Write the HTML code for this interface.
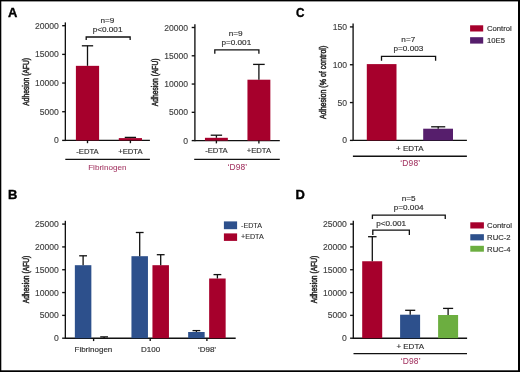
<!DOCTYPE html>
<html><head><meta charset="utf-8"><style>
html,body{margin:0;padding:0;background:#fff;}
body{width:520px;height:372px;overflow:hidden;position:relative;}
svg{position:absolute;left:0;top:0;display:block;will-change:transform;}
.wrap{position:absolute;left:0;top:0;width:520px;height:372px;}
text{font-family:"Liberation Sans", sans-serif;paint-order:stroke;}
</style></head><body>
<div class="wrap"><svg width="520" height="372" viewBox="0 0 520 372" xmlns="http://www.w3.org/2000/svg">
<rect x="0.00" y="0.00" width="520.00" height="1.40" fill="#000"/>
<rect x="0.00" y="0.00" width="1.30" height="372.00" fill="#000"/>
<rect x="518.00" y="0.00" width="2.00" height="372.00" fill="#000"/>
<rect x="0.00" y="370.30" width="520.00" height="1.70" fill="#000"/>
<text x="0" y="0" transform="translate(8.00,16.90) scale(1.08,1)" font-size="12" text-anchor="start" fill="#000" stroke="#000" stroke-width="0.35" font-weight="bold">A</text>
<line x1="65.35" y1="22.40" x2="65.35" y2="141.08" stroke="#111" stroke-width="1.35"/>
<line x1="62.15" y1="140.40" x2="65.35" y2="140.40" stroke="#111" stroke-width="1.35"/>
<text x="0" y="0" transform="translate(58.80,143.40) scale(1.05,1)" font-size="8.2" text-anchor="end" fill="#3c3c3c" stroke="#3c3c3c" stroke-width="0.12" font-weight="normal">0</text>
<line x1="62.15" y1="111.72" x2="65.35" y2="111.72" stroke="#111" stroke-width="1.35"/>
<text x="0" y="0" transform="translate(58.80,114.72) scale(1.05,1)" font-size="8.2" text-anchor="end" fill="#3c3c3c" stroke="#3c3c3c" stroke-width="0.12" font-weight="normal">5000</text>
<line x1="62.15" y1="83.05" x2="65.35" y2="83.05" stroke="#111" stroke-width="1.35"/>
<text x="0" y="0" transform="translate(58.80,86.05) scale(1.05,1)" font-size="8.2" text-anchor="end" fill="#3c3c3c" stroke="#3c3c3c" stroke-width="0.12" font-weight="normal">10000</text>
<line x1="62.15" y1="54.38" x2="65.35" y2="54.38" stroke="#111" stroke-width="1.35"/>
<text x="0" y="0" transform="translate(58.80,57.38) scale(1.05,1)" font-size="8.2" text-anchor="end" fill="#3c3c3c" stroke="#3c3c3c" stroke-width="0.12" font-weight="normal">15000</text>
<line x1="62.15" y1="25.70" x2="65.35" y2="25.70" stroke="#111" stroke-width="1.35"/>
<text x="0" y="0" transform="translate(58.80,28.70) scale(1.05,1)" font-size="8.2" text-anchor="end" fill="#3c3c3c" stroke="#3c3c3c" stroke-width="0.12" font-weight="normal">20000</text>
<line x1="65.35" y1="140.40" x2="149.90" y2="140.40" stroke="#111" stroke-width="1.35"/>
<rect x="75.90" y="65.84" width="23.20" height="74.56" fill="#a6002c"/>
<rect x="118.80" y="138.11" width="23.20" height="2.29" fill="#a6002c"/>
<line x1="87.50" y1="65.84" x2="87.50" y2="45.80" stroke="#111" stroke-width="1.3"/>
<line x1="81.85" y1="45.80" x2="93.15" y2="45.80" stroke="#111" stroke-width="1.3"/>
<line x1="130.40" y1="138.11" x2="130.40" y2="137.40" stroke="#111" stroke-width="1.3"/>
<line x1="124.75" y1="137.40" x2="136.05" y2="137.40" stroke="#111" stroke-width="1.3"/>
<line x1="87.50" y1="140.40" x2="87.50" y2="143.20" stroke="#111" stroke-width="1.35"/>
<line x1="130.40" y1="140.40" x2="130.40" y2="143.20" stroke="#111" stroke-width="1.35"/>
<text x="0.0" y="0" transform="translate(87.50,153.60) scale(0.95,1)" font-size="8.1" text-anchor="middle" fill="#303030" stroke="#303030" stroke-width="0.16" font-weight="normal">-EDTA</text>
<text x="0.0" y="0" transform="translate(130.40,153.60) scale(0.95,1)" font-size="8.1" text-anchor="middle" fill="#303030" stroke="#303030" stroke-width="0.16" font-weight="normal">+EDTA</text>
<line x1="65.30" y1="159.40" x2="149.90" y2="159.40" stroke="#111" stroke-width="1.35"/>
<text x="0.0" y="0" transform="translate(107.30,169.90) scale(1.0,1)" font-size="8.1" text-anchor="middle" fill="#a33562" stroke="#a33562" stroke-width="0.05" font-weight="normal">Fibrinogen</text>
<path d="M86.20 39.90 V37.00 H130.15 V39.90" fill="none" stroke="#111" stroke-width="1.3"/>
<text x="0.0" y="0" transform="translate(107.40,22.60) scale(1.08,1)" font-size="7.6" text-anchor="middle" fill="#303030" stroke="#303030" stroke-width="0.16" font-weight="normal">n=9</text>
<text x="0.0" y="0" transform="translate(107.55,31.60) scale(1.08,1)" font-size="7.6" text-anchor="middle" fill="#303030" stroke="#303030" stroke-width="0.16" font-weight="normal">p&lt;0.001</text>
<g transform="translate(25.4,81.8) rotate(-90) scale(0.78,1)"><text x="0" y="3.10" font-size="8.6" text-anchor="middle" fill="#303030" stroke="#303030" stroke-width="0.55">Adhesion (AFU)</text></g>
<line x1="194.90" y1="24.20" x2="194.90" y2="141.28" stroke="#111" stroke-width="1.35"/>
<line x1="191.70" y1="140.60" x2="194.90" y2="140.60" stroke="#111" stroke-width="1.35"/>
<text x="0" y="0" transform="translate(188.10,143.60) scale(1.05,1)" font-size="8.2" text-anchor="end" fill="#3c3c3c" stroke="#3c3c3c" stroke-width="0.12" font-weight="normal">0</text>
<line x1="191.70" y1="112.32" x2="194.90" y2="112.32" stroke="#111" stroke-width="1.35"/>
<text x="0" y="0" transform="translate(188.10,115.32) scale(1.05,1)" font-size="8.2" text-anchor="end" fill="#3c3c3c" stroke="#3c3c3c" stroke-width="0.12" font-weight="normal">5000</text>
<line x1="191.70" y1="84.05" x2="194.90" y2="84.05" stroke="#111" stroke-width="1.35"/>
<text x="0" y="0" transform="translate(188.10,87.05) scale(1.05,1)" font-size="8.2" text-anchor="end" fill="#3c3c3c" stroke="#3c3c3c" stroke-width="0.12" font-weight="normal">10000</text>
<line x1="191.70" y1="55.78" x2="194.90" y2="55.78" stroke="#111" stroke-width="1.35"/>
<text x="0" y="0" transform="translate(188.10,58.78) scale(1.05,1)" font-size="8.2" text-anchor="end" fill="#3c3c3c" stroke="#3c3c3c" stroke-width="0.12" font-weight="normal">15000</text>
<line x1="191.70" y1="27.50" x2="194.90" y2="27.50" stroke="#111" stroke-width="1.35"/>
<text x="0" y="0" transform="translate(188.10,30.50) scale(1.05,1)" font-size="8.2" text-anchor="end" fill="#3c3c3c" stroke="#3c3c3c" stroke-width="0.12" font-weight="normal">20000</text>
<line x1="194.90" y1="140.60" x2="279.80" y2="140.60" stroke="#111" stroke-width="1.35"/>
<rect x="204.95" y="137.80" width="22.90" height="2.80" fill="#a6002c"/>
<rect x="247.45" y="79.70" width="22.90" height="60.90" fill="#a6002c"/>
<line x1="216.40" y1="137.80" x2="216.40" y2="135.20" stroke="#111" stroke-width="1.3"/>
<line x1="210.70" y1="135.20" x2="222.10" y2="135.20" stroke="#111" stroke-width="1.3"/>
<line x1="258.90" y1="79.70" x2="258.90" y2="64.40" stroke="#111" stroke-width="1.3"/>
<line x1="253.10" y1="64.40" x2="264.70" y2="64.40" stroke="#111" stroke-width="1.3"/>
<line x1="216.40" y1="140.60" x2="216.40" y2="143.40" stroke="#111" stroke-width="1.35"/>
<line x1="258.90" y1="140.60" x2="258.90" y2="143.40" stroke="#111" stroke-width="1.35"/>
<text x="0.0" y="0" transform="translate(216.40,153.30) scale(0.95,1)" font-size="8.1" text-anchor="middle" fill="#303030" stroke="#303030" stroke-width="0.16" font-weight="normal">-EDTA</text>
<text x="0.0" y="0" transform="translate(258.90,153.30) scale(0.95,1)" font-size="8.1" text-anchor="middle" fill="#303030" stroke="#303030" stroke-width="0.16" font-weight="normal">+EDTA</text>
<line x1="194.20" y1="159.40" x2="279.80" y2="159.40" stroke="#111" stroke-width="1.35"/>
<text x="0.075" y="0" transform="translate(237.30,169.70) scale(1.0,1)" font-size="8.4" text-anchor="middle" fill="#a33562" stroke="#a33562" stroke-width="0.05" font-weight="normal" letter-spacing="0.15">‘D98’</text>
<path d="M214.80 53.80 V49.90 H258.90 V53.80" fill="none" stroke="#111" stroke-width="1.3"/>
<text x="0.0" y="0" transform="translate(235.65,36.10) scale(1.08,1)" font-size="7.6" text-anchor="middle" fill="#303030" stroke="#303030" stroke-width="0.16" font-weight="normal">n=9</text>
<text x="0.0" y="0" transform="translate(236.30,45.10) scale(1.08,1)" font-size="7.6" text-anchor="middle" fill="#303030" stroke="#303030" stroke-width="0.16" font-weight="normal">p=0.001</text>
<g transform="translate(155.1,82.3) rotate(-90) scale(0.78,1)"><text x="0" y="3.10" font-size="8.6" text-anchor="middle" fill="#303030" stroke="#303030" stroke-width="0.55">Adhesion (AFU)</text></g>
<text x="0" y="0" transform="translate(295.90,16.70) scale(0.98,1)" font-size="12" text-anchor="start" fill="#000" stroke="#000" stroke-width="0.35" font-weight="bold">C</text>
<line x1="353.10" y1="23.60" x2="353.10" y2="141.08" stroke="#111" stroke-width="1.35"/>
<line x1="349.90" y1="140.40" x2="353.10" y2="140.40" stroke="#111" stroke-width="1.35"/>
<text x="0" y="0" transform="translate(347.00,143.40) scale(1.05,1)" font-size="8.2" text-anchor="end" fill="#3c3c3c" stroke="#3c3c3c" stroke-width="0.12" font-weight="normal">0</text>
<line x1="349.90" y1="102.57" x2="353.10" y2="102.57" stroke="#111" stroke-width="1.35"/>
<text x="0" y="0" transform="translate(347.00,105.57) scale(1.05,1)" font-size="8.2" text-anchor="end" fill="#3c3c3c" stroke="#3c3c3c" stroke-width="0.12" font-weight="normal">50</text>
<line x1="349.90" y1="64.73" x2="353.10" y2="64.73" stroke="#111" stroke-width="1.35"/>
<text x="0" y="0" transform="translate(347.00,67.73) scale(1.05,1)" font-size="8.2" text-anchor="end" fill="#3c3c3c" stroke="#3c3c3c" stroke-width="0.12" font-weight="normal">100</text>
<line x1="349.90" y1="26.90" x2="353.10" y2="26.90" stroke="#111" stroke-width="1.35"/>
<text x="0" y="0" transform="translate(347.00,29.90) scale(1.05,1)" font-size="8.2" text-anchor="end" fill="#3c3c3c" stroke="#3c3c3c" stroke-width="0.12" font-weight="normal">150</text>
<line x1="353.10" y1="140.40" x2="466.90" y2="140.40" stroke="#111" stroke-width="1.35"/>
<rect x="366.80" y="64.10" width="29.70" height="76.30" fill="#a6002c"/>
<rect x="423.20" y="128.70" width="29.80" height="11.70" fill="#561e6c"/>
<line x1="438.20" y1="128.70" x2="438.20" y2="126.80" stroke="#111" stroke-width="1.3"/>
<line x1="431.15" y1="126.80" x2="445.25" y2="126.80" stroke="#111" stroke-width="1.3"/>
<path d="M381.50 60.70 V56.30 H435.60 V60.70" fill="none" stroke="#111" stroke-width="1.3"/>
<text x="0.0" y="0" transform="translate(408.30,42.10) scale(1.08,1)" font-size="7.6" text-anchor="middle" fill="#303030" stroke="#303030" stroke-width="0.16" font-weight="normal">n=7</text>
<text x="0.0" y="0" transform="translate(408.40,51.25) scale(1.08,1)" font-size="7.6" text-anchor="middle" fill="#303030" stroke="#303030" stroke-width="0.16" font-weight="normal">p=0.003</text>
<text x="0.0" y="0" transform="translate(409.85,151.20) scale(1.0,1)" font-size="8" text-anchor="middle" fill="#303030" stroke="#303030" stroke-width="0.16" font-weight="normal">+ EDTA</text>
<line x1="352.90" y1="156.20" x2="466.90" y2="156.20" stroke="#111" stroke-width="1.35"/>
<text x="0.075" y="0" transform="translate(410.20,166.40) scale(1.0,1)" font-size="8.4" text-anchor="middle" fill="#a33562" stroke="#a33562" stroke-width="0.05" font-weight="normal" letter-spacing="0.15">‘D98’</text>
<rect x="470.10" y="25.30" width="13.10" height="6.20" fill="#a6002c"/>
<text x="0" y="0" transform="translate(487.00,30.80) scale(1.0,1)" font-size="7.7" text-anchor="start" fill="#303030" stroke="#303030" stroke-width="0.16" font-weight="normal">Control</text>
<rect x="470.10" y="37.20" width="13.10" height="6.40" fill="#561e6c"/>
<text x="0" y="0" transform="translate(487.00,42.70) scale(1.0,1)" font-size="7.7" text-anchor="start" fill="#303030" stroke="#303030" stroke-width="0.16" font-weight="normal">10E5</text>
<g transform="translate(322.9,82.35) rotate(-90) scale(0.82,1)"><text x="0" y="3.10" font-size="8.6" text-anchor="middle" fill="#303030" stroke="#303030" stroke-width="0.55">Adhesion (% of control)</text></g>
<text x="0" y="0" transform="translate(8.10,198.70) scale(1.08,1)" font-size="12" text-anchor="start" fill="#000" stroke="#000" stroke-width="0.35" font-weight="bold">B</text>
<line x1="65.35" y1="220.80" x2="65.35" y2="338.88" stroke="#111" stroke-width="1.35"/>
<line x1="62.15" y1="338.20" x2="65.35" y2="338.20" stroke="#111" stroke-width="1.35"/>
<text x="0" y="0" transform="translate(58.80,341.20) scale(1.05,1)" font-size="8.2" text-anchor="end" fill="#3c3c3c" stroke="#3c3c3c" stroke-width="0.12" font-weight="normal">0</text>
<line x1="62.15" y1="315.38" x2="65.35" y2="315.38" stroke="#111" stroke-width="1.35"/>
<text x="0" y="0" transform="translate(58.80,318.38) scale(1.05,1)" font-size="8.2" text-anchor="end" fill="#3c3c3c" stroke="#3c3c3c" stroke-width="0.12" font-weight="normal">5000</text>
<line x1="62.15" y1="292.56" x2="65.35" y2="292.56" stroke="#111" stroke-width="1.35"/>
<text x="0" y="0" transform="translate(58.80,295.56) scale(1.05,1)" font-size="8.2" text-anchor="end" fill="#3c3c3c" stroke="#3c3c3c" stroke-width="0.12" font-weight="normal">10000</text>
<line x1="62.15" y1="269.74" x2="65.35" y2="269.74" stroke="#111" stroke-width="1.35"/>
<text x="0" y="0" transform="translate(58.80,272.74) scale(1.05,1)" font-size="8.2" text-anchor="end" fill="#3c3c3c" stroke="#3c3c3c" stroke-width="0.12" font-weight="normal">15000</text>
<line x1="62.15" y1="246.92" x2="65.35" y2="246.92" stroke="#111" stroke-width="1.35"/>
<text x="0" y="0" transform="translate(58.80,249.92) scale(1.05,1)" font-size="8.2" text-anchor="end" fill="#3c3c3c" stroke="#3c3c3c" stroke-width="0.12" font-weight="normal">20000</text>
<line x1="62.15" y1="224.10" x2="65.35" y2="224.10" stroke="#111" stroke-width="1.35"/>
<text x="0" y="0" transform="translate(58.80,227.10) scale(1.05,1)" font-size="8.2" text-anchor="end" fill="#3c3c3c" stroke="#3c3c3c" stroke-width="0.12" font-weight="normal">25000</text>
<line x1="65.35" y1="338.20" x2="235.70" y2="338.20" stroke="#111" stroke-width="1.35"/>
<rect x="74.85" y="265.20" width="16.50" height="73.00" fill="#2d508c"/>
<line x1="83.10" y1="265.20" x2="83.10" y2="255.80" stroke="#111" stroke-width="1.3"/>
<line x1="79.20" y1="255.80" x2="87.00" y2="255.80" stroke="#111" stroke-width="1.3"/>
<line x1="104.10" y1="338.20" x2="104.10" y2="336.88" stroke="#111" stroke-width="1.3"/>
<line x1="100.20" y1="336.88" x2="108.00" y2="336.88" stroke="#111" stroke-width="1.3"/>
<line x1="93.60" y1="338.20" x2="93.60" y2="341.10" stroke="#111" stroke-width="1.35"/>
<rect x="131.45" y="256.20" width="16.50" height="82.00" fill="#2d508c"/>
<rect x="152.45" y="265.20" width="16.50" height="73.00" fill="#a6002c"/>
<line x1="139.70" y1="256.20" x2="139.70" y2="232.50" stroke="#111" stroke-width="1.3"/>
<line x1="135.80" y1="232.50" x2="143.60" y2="232.50" stroke="#111" stroke-width="1.3"/>
<line x1="160.70" y1="265.20" x2="160.70" y2="254.70" stroke="#111" stroke-width="1.3"/>
<line x1="156.80" y1="254.70" x2="164.60" y2="254.70" stroke="#111" stroke-width="1.3"/>
<line x1="150.20" y1="338.20" x2="150.20" y2="341.10" stroke="#111" stroke-width="1.35"/>
<rect x="188.15" y="332.00" width="16.50" height="6.20" fill="#2d508c"/>
<rect x="209.15" y="278.50" width="16.50" height="59.70" fill="#a6002c"/>
<line x1="196.40" y1="332.00" x2="196.40" y2="330.60" stroke="#111" stroke-width="1.3"/>
<line x1="192.50" y1="330.60" x2="200.30" y2="330.60" stroke="#111" stroke-width="1.3"/>
<line x1="217.40" y1="278.50" x2="217.40" y2="274.60" stroke="#111" stroke-width="1.3"/>
<line x1="213.50" y1="274.60" x2="221.30" y2="274.60" stroke="#111" stroke-width="1.3"/>
<line x1="206.90" y1="338.20" x2="206.90" y2="341.10" stroke="#111" stroke-width="1.35"/>
<text x="0.0" y="0" transform="translate(93.40,351.80) scale(1.0,1)" font-size="8" text-anchor="middle" fill="#303030" stroke="#303030" stroke-width="0.16" font-weight="normal">Fibrinogen</text>
<text x="0.0" y="0" transform="translate(150.60,351.80) scale(1.0,1)" font-size="8" text-anchor="middle" fill="#303030" stroke="#303030" stroke-width="0.16" font-weight="normal">D100</text>
<text x="0.0" y="0" transform="translate(207.00,351.80) scale(1.0,1)" font-size="8" text-anchor="middle" fill="#303030" stroke="#303030" stroke-width="0.16" font-weight="normal">‘D98’</text>
<rect x="223.90" y="221.40" width="13.20" height="7.80" fill="#2d508c"/>
<text x="0" y="0" transform="translate(241.00,228.10) scale(0.97,1)" font-size="7.4" text-anchor="start" fill="#303030" stroke="#303030" stroke-width="0.12" font-weight="normal">-EDTA</text>
<rect x="223.90" y="233.40" width="13.20" height="7.50" fill="#a6002c"/>
<text x="0" y="0" transform="translate(241.00,239.30) scale(0.97,1)" font-size="7.4" text-anchor="start" fill="#303030" stroke="#303030" stroke-width="0.12" font-weight="normal">+EDTA</text>
<g transform="translate(25.6,279.5) rotate(-90) scale(0.78,1)"><text x="0" y="3.10" font-size="8.6" text-anchor="middle" fill="#303030" stroke="#303030" stroke-width="0.55">Adhesion (AFU)</text></g>
<text x="0" y="0" transform="translate(295.50,198.70) scale(1.08,1)" font-size="12" text-anchor="start" fill="#000" stroke="#000" stroke-width="0.35" font-weight="bold">D</text>
<line x1="353.30" y1="220.80" x2="353.30" y2="338.88" stroke="#111" stroke-width="1.35"/>
<line x1="350.10" y1="338.20" x2="353.30" y2="338.20" stroke="#111" stroke-width="1.35"/>
<text x="0" y="0" transform="translate(346.80,341.20) scale(1.05,1)" font-size="8.2" text-anchor="end" fill="#3c3c3c" stroke="#3c3c3c" stroke-width="0.12" font-weight="normal">0</text>
<line x1="350.10" y1="315.38" x2="353.30" y2="315.38" stroke="#111" stroke-width="1.35"/>
<text x="0" y="0" transform="translate(346.80,318.38) scale(1.05,1)" font-size="8.2" text-anchor="end" fill="#3c3c3c" stroke="#3c3c3c" stroke-width="0.12" font-weight="normal">5000</text>
<line x1="350.10" y1="292.56" x2="353.30" y2="292.56" stroke="#111" stroke-width="1.35"/>
<text x="0" y="0" transform="translate(346.80,295.56) scale(1.05,1)" font-size="8.2" text-anchor="end" fill="#3c3c3c" stroke="#3c3c3c" stroke-width="0.12" font-weight="normal">10000</text>
<line x1="350.10" y1="269.74" x2="353.30" y2="269.74" stroke="#111" stroke-width="1.35"/>
<text x="0" y="0" transform="translate(346.80,272.74) scale(1.05,1)" font-size="8.2" text-anchor="end" fill="#3c3c3c" stroke="#3c3c3c" stroke-width="0.12" font-weight="normal">15000</text>
<line x1="350.10" y1="246.92" x2="353.30" y2="246.92" stroke="#111" stroke-width="1.35"/>
<text x="0" y="0" transform="translate(346.80,249.92) scale(1.05,1)" font-size="8.2" text-anchor="end" fill="#3c3c3c" stroke="#3c3c3c" stroke-width="0.12" font-weight="normal">20000</text>
<line x1="350.10" y1="224.10" x2="353.30" y2="224.10" stroke="#111" stroke-width="1.35"/>
<text x="0" y="0" transform="translate(346.80,227.10) scale(1.05,1)" font-size="8.2" text-anchor="end" fill="#3c3c3c" stroke="#3c3c3c" stroke-width="0.12" font-weight="normal">25000</text>
<line x1="353.30" y1="338.20" x2="467.10" y2="338.20" stroke="#111" stroke-width="1.35"/>
<rect x="362.20" y="261.25" width="20.00" height="76.95" fill="#a6002c"/>
<rect x="400.10" y="314.70" width="20.00" height="23.50" fill="#2d508c"/>
<rect x="438.10" y="315.00" width="20.00" height="23.20" fill="#6cae40"/>
<line x1="372.30" y1="261.25" x2="372.30" y2="236.70" stroke="#111" stroke-width="1.3"/>
<line x1="368.05" y1="236.70" x2="376.55" y2="236.70" stroke="#111" stroke-width="1.3"/>
<line x1="410.20" y1="314.70" x2="410.20" y2="310.30" stroke="#111" stroke-width="1.3"/>
<line x1="405.15" y1="310.30" x2="415.25" y2="310.30" stroke="#111" stroke-width="1.3"/>
<line x1="448.10" y1="315.00" x2="448.10" y2="308.40" stroke="#111" stroke-width="1.3"/>
<line x1="443.05" y1="308.40" x2="453.15" y2="308.40" stroke="#111" stroke-width="1.3"/>
<path d="M372.40 219.00 V215.20 H445.25 V219.00" fill="none" stroke="#111" stroke-width="1.3"/>
<path d="M372.80 235.00 V230.15 H409.35 V235.00" fill="none" stroke="#111" stroke-width="1.3"/>
<text x="0.0" y="0" transform="translate(408.60,200.60) scale(1.08,1)" font-size="7.6" text-anchor="middle" fill="#303030" stroke="#303030" stroke-width="0.16" font-weight="normal">n=5</text>
<text x="0.0" y="0" transform="translate(408.60,210.00) scale(1.08,1)" font-size="7.6" text-anchor="middle" fill="#303030" stroke="#303030" stroke-width="0.16" font-weight="normal">p=0.004</text>
<text x="0.0" y="0" transform="translate(391.15,225.80) scale(1.08,1)" font-size="7.6" text-anchor="middle" fill="#303030" stroke="#303030" stroke-width="0.16" font-weight="normal">p&lt;0.001</text>
<text x="0.0" y="0" transform="translate(410.20,348.50) scale(1.0,1)" font-size="8" text-anchor="middle" fill="#303030" stroke="#303030" stroke-width="0.16" font-weight="normal">+ EDTA</text>
<line x1="353.50" y1="353.60" x2="467.00" y2="353.60" stroke="#111" stroke-width="1.35"/>
<text x="0.075" y="0" transform="translate(410.65,363.70) scale(1.0,1)" font-size="8.4" text-anchor="middle" fill="#a33562" stroke="#a33562" stroke-width="0.05" font-weight="normal" letter-spacing="0.15">‘D98’</text>
<rect x="470.30" y="222.30" width="13.60" height="6.20" fill="#a6002c"/>
<text x="0" y="0" transform="translate(487.10,228.10) scale(1.0,1)" font-size="7.7" text-anchor="start" fill="#303030" stroke="#303030" stroke-width="0.16" font-weight="normal">Control</text>
<rect x="470.30" y="234.20" width="13.60" height="6.20" fill="#2d508c"/>
<text x="0" y="0" transform="translate(487.10,240.00) scale(1.0,1)" font-size="7.7" text-anchor="start" fill="#303030" stroke="#303030" stroke-width="0.16" font-weight="normal">RUC-2</text>
<rect x="470.30" y="245.80" width="13.60" height="5.90" fill="#6cae40"/>
<text x="0" y="0" transform="translate(487.10,251.60) scale(1.0,1)" font-size="7.7" text-anchor="start" fill="#303030" stroke="#303030" stroke-width="0.16" font-weight="normal">RUC-4</text>
<g transform="translate(313.6,279.5) rotate(-90) scale(0.78,1)"><text x="0" y="3.10" font-size="8.6" text-anchor="middle" fill="#303030" stroke="#303030" stroke-width="0.55">Adhesion (AFU)</text></g>
</svg></div>
</body></html>
